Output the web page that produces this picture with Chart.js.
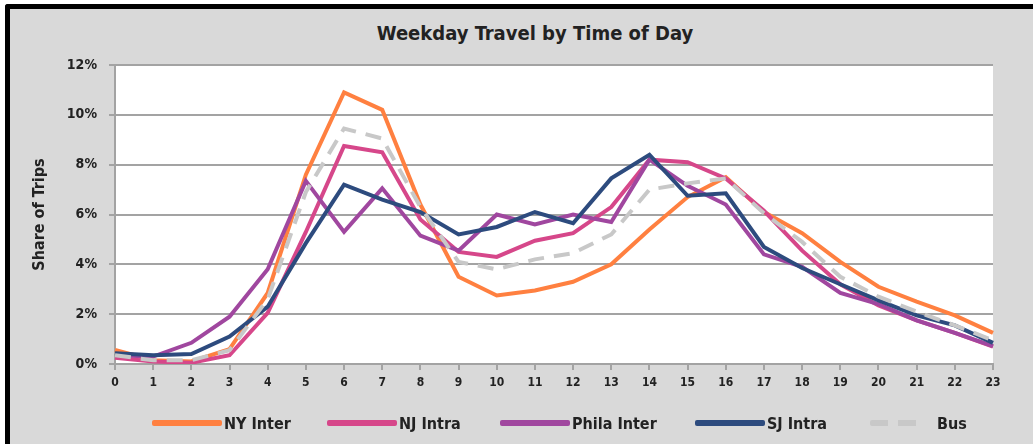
<!DOCTYPE html>
<html>
<head>
<meta charset="utf-8">
<script src="https://cdn.jsdelivr.net/npm/chart.js@4.4.1/dist/chart.umd.min.js"></script>
<style>
  html, body { margin: 0; padding: 0; overflow: hidden; background: #fff; }
  body { width: 1033px; height: 444px; position: relative; }
  .frame { position: absolute; left: 5px; top: 4px; width: 1040px; height: 450px; background: #d9d9d9;
           border-left: 5px solid #000; border-top: 5px solid #000; border-right: 0; border-bottom: 0;
           border-top-left-radius: 3px; }
  .chart-box { position: absolute; left: 0; top: 0; width: 1033px; height: 444px; }
  #title { position: absolute; left: 335px; width: 400px; top: 21px; height: 24px; line-height: 24px; text-align: center;
           font: bold 20px "DejaVu Sans Condensed", "Liberation Sans Narrow", "Liberation Sans", sans-serif; color: #222; }
  #legend { position: absolute; left: 0; top: 0; width: 1033px; height: 444px; pointer-events: none; }
  .item { position: absolute; top: 413px; height: 20px; display: flex; align-items: center;
          font: bold 16px "DejaVu Sans Condensed", "Liberation Sans Narrow", "Liberation Sans", sans-serif; color: #222; }
  .swatch { display: inline-block; height: 6px; border-radius: 2px; }
</style>
</head>
<body>
<div class="frame"></div>
<div id="title">Weekday Travel by Time of Day</div>
<div class="chart-box"><canvas id="chart"></canvas></div>
<div id="legend"></div>
<script>
const FONT = '"DejaVu Sans Condensed", "Liberation Sans Narrow", "Liberation Sans", sans-serif';

const hours = ["0","1","2","3","4","5","6","7","8","9","10","11","12","13","14","15","16","17","18","19","20","21","22","23"];
const yTicks = [0, 2, 4, 6, 8, 10, 12];

// share of trips, percent
const nyInter = [0.56,0.15,0.1,0.6,2.85,7.6,10.9,10.2,6.4,3.5,2.75,2.95,3.3,4.0,5.4,6.7,7.5,6.1,5.25,4.1,3.1,2.5,1.95,1.25];
const njIntra = [0.25,0.1,0.05,0.35,2.05,5.3,8.75,8.5,5.8,4.5,4.3,4.95,5.25,6.3,8.2,8.1,7.45,6.15,4.55,3.2,2.35,1.75,1.25,0.7];
const philaInter = [0.35,0.3,0.85,1.9,3.8,7.35,5.3,7.05,5.15,4.55,6.0,5.6,6.0,5.7,8.2,7.15,6.4,4.4,3.9,2.85,2.4,1.75,1.25,0.72];
const sjIntra = [0.43,0.35,0.4,1.1,2.3,4.85,7.2,6.6,6.1,5.2,5.5,6.1,5.65,7.45,8.4,6.75,6.85,4.7,3.85,3.2,2.55,1.95,1.55,0.85];
const bus = [0.35,0.15,0.15,0.55,2.6,6.9,9.45,9.05,6.3,4.1,3.8,4.2,4.45,5.2,7.0,7.25,7.45,6.05,4.9,3.5,2.7,2.1,1.55,0.95];

const series = [
  { label: "NY Inter", data: nyInter, color: "#ff8040" },
  { label: "NJ Intra", data: njIntra, color: "#d6478a" },
  { label: "Phila Inter", data: philaInter, color: "#a0479f" },
  { label: "SJ Intra", data: sjIntra, color: "#2d4b7e" },
  { label: "Bus", data: bus, color: "#c8c8c8", dash: [16, 10] },
];

const gridColor = "#a3a3a3";

const plotBackground = {
  id: "plotBackground",
  beforeDraw(chart) {
    const { ctx, chartArea: a } = chart;
    ctx.save();
    ctx.fillStyle = "#fff";
    ctx.fillRect(a.left, a.top, a.right - a.left, a.bottom - a.top);
    ctx.restore();
  }
};

const chart = new Chart(document.getElementById("chart"), {
  type: "line",
  data: {
    labels: hours,
    datasets: series.map((s, i) => ({
      label: s.label,
      data: s.data,
      borderColor: s.color,
      backgroundColor: s.color,
      borderWidth: 4,
      borderDash: s.dash || [],
      pointRadius: 0,
      tension: 0,
      order: series.length - i,
    })),
  },
  options: {
    responsive: true,
    maintainAspectRatio: false,
    animation: false,
    layout: { padding: { left: 0, right: 40, top: 65, bottom: 50 } },
    plugins: {
      legend: { display: false },
      tooltip: { enabled: false },
      title: { display: false },
    },
    scales: {
      x: {
        offset: false,
        afterFit: (s) => { s.height = 30; },
        grid: { drawOnChartArea: false, drawTicks: true, tickLength: 6, color: gridColor, lineWidth: 2 },
        border: { display: true, color: gridColor, width: 2 },
        ticks: { color: "#222", font: { family: FONT, size: 12, weight: "bold" }, padding: 6, maxRotation: 0, autoSkip: false },
      },
      y: {
        min: 0,
        max: 12,
        afterFit: (s) => { s.width = 115; },
        afterBuildTicks: (s) => { s.ticks = yTicks.map((v) => ({ value: v })); },
        grid: { color: gridColor, lineWidth: 2, tickLength: 6 },
        border: { display: true, color: gridColor, width: 2 },
        ticks: { color: "#222", font: { family: FONT, size: 14, weight: "bold" }, padding: 12, callback: (v) => v + "%" },
        title: {
          display: true,
          text: "Share of Trips",
          color: "#222",
          font: { family: FONT, size: 16, weight: "bold" },
          padding: { top: 30, bottom: 0 },
        },
      },
    },
  },
  plugins: [plotBackground],
});

// legend in html, spaced like the original
const legendLeft = [152, 327, 500, 695, 870];
const legend = document.getElementById("legend");
series.forEach((s, i) => {
  const item = document.createElement("div");
  item.className = "item";
  item.style.left = legendLeft[i] + "px";
  const sw = document.createElement("span");
  sw.className = "swatch";
  if (s.dash) {
    sw.style.width = "48px";
    sw.style.background = "repeating-linear-gradient(to right, " + s.color + " 0 18px, transparent 18px 28px)";
  } else {
    sw.style.width = "70px";
    sw.style.background = s.color;
  }
  const txt = document.createElement("span");
  txt.textContent = s.label;
  txt.style.marginLeft = s.dash ? "19px" : "2px";
  item.appendChild(sw);
  item.appendChild(txt);
  legend.appendChild(item);
});
</script>
</body>
</html>
